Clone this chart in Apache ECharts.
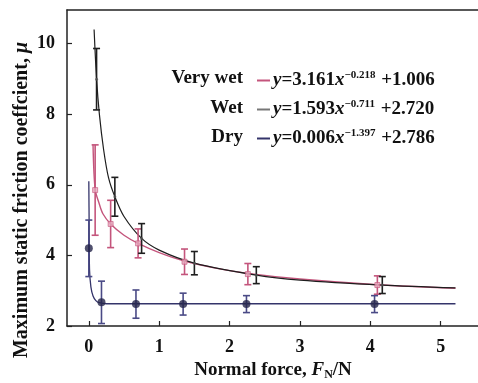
<!DOCTYPE html>
<html><head><meta charset="utf-8">
<script src="https://cdn.jsdelivr.net/npm/echarts@6/dist/echarts.min.js"></script>
<style>html,body{margin:0;padding:0;background:#fff}#c{width:478px;height:383px}</style>
</head><body><div id="c"></div>
<script>
// Tick labels
const xTicks = [0, 1, 2, 3, 4, 5];
const yTicks = [2, 4, 6, 8, 10];
// Measured points (mean, error half-width)
const veryWetX = [0.09, 0.31, 0.70, 1.36, 2.26, 4.10];
const veryWetY = [5.85, 4.89, 4.34, 3.82, 3.47, 3.16];
const veryWetErr = [1.28, 0.67, 0.41, 0.36, 0.30, 0.26];
const wetX = [0.11, 0.37, 0.75, 1.50, 2.38, 4.17];
const wetY = [8.99, 5.66, 4.48, 3.78, 3.44, 3.16];
const wetErr = [0.87, 0.55, 0.42, 0.33, 0.24, 0.24];
const dryX = [0.0, 0.18, 0.67, 1.34, 2.24, 4.06];
const dryY = [4.20, 2.67, 2.62, 2.62, 2.62, 2.62];
const dryErr = [0.80, 0.60, 0.40, 0.31, 0.24, 0.24];
// Fitted curves
const veryWetCurveX = [0.06, 0.09, 0.15, 0.20, 0.31, 0.50, 0.70, 1.00, 1.36, 1.80, 2.26, 3.00, 4.10, 5.21];
const veryWetCurveY = [7.13, 5.87, 5.45, 5.18, 4.89, 4.57, 4.34, 4.08, 3.84, 3.64, 3.49, 3.33, 3.17, 3.07];
const wetCurveX = [0.075, 0.11, 0.15, 0.21, 0.28, 0.37, 0.50, 0.75, 1.00, 1.50, 2.38, 3.00, 4.17, 5.21];
const wetCurveY = [10.4, 9.0, 8.0, 7.0, 6.2, 5.66, 5.10, 4.48, 4.15, 3.78, 3.44, 3.30, 3.16, 3.08];
const dryCurveX = [0.0, 0.005, 0.01, 0.03, 0.06, 0.10, 0.15, 0.25, 1.0, 5.21];
const dryCurveY = [6.10, 4.80, 3.60, 3.10, 2.85, 2.72, 2.66, 2.63, 2.63, 2.63];
// Legend texts
const seriesNames = ['Very wet', 'Wet', 'Dry'];
const eqCoef = ['3.161', '1.593', '0.006'];
const eqExp = ['\u22120.218', '\u22120.711', '\u22121.397'];
const eqConst = ['1.006', '2.720', '2.786'];

const colors = {vw: '#c4557c', vwMark: '#e6a8bd', wet: '#1e1e1e', dry: '#34346a', dryBar: '#4a4a86'};
const FONT = '"Liberation Serif", "Times New Roman", serif';

const zip = (xs, ys) => xs.map((x, i) => [x, ys[i]]);
const errData = (xs, ys, es) => xs.map((x, i) => [x, ys[i] - es[i], ys[i] + es[i]]);

function errRender(color) {
  return function (params, api) {
    const x = api.value(0);
    const lo = api.coord([x, api.value(1)]);
    const hi = api.coord([x, api.value(2)]);
    const w = 3.5;
    const st = {stroke: color, lineWidth: 1.6};
    return {type: 'group', children: [
      {type: 'line', shape: {x1: lo[0], y1: lo[1], x2: hi[0], y2: hi[1]}, style: st},
      {type: 'line', shape: {x1: lo[0] - w, y1: lo[1], x2: lo[0] + w, y2: lo[1]}, style: st},
      {type: 'line', shape: {x1: hi[0] - w, y1: hi[1], x2: hi[0] + w, y2: hi[1]}, style: st}
    ]};
  };
}

const chart = echarts.init(document.getElementById('c'), null, {renderer: 'canvas'});
const axisCommon = {
  type: 'value', min: -0.31, max: 5.53,
  axisLine: {show: true, onZero: false, lineStyle: {color: '#222', width: 1.5}},
  splitLine: {show: false}
};
const eqRich = {
  i: {fontFamily: FONT, fontStyle: 'italic', fontWeight: 'bold', fontSize: 19, color: '#111'},
  n: {fontFamily: FONT, fontWeight: 'bold', fontSize: 19, color: '#111'},
  s: {fontFamily: FONT, fontWeight: 'bold', fontSize: 11, color: '#111', verticalAlign: 'top', padding: [0, 1, 10, 0]}
};
const labelStyle = {fontFamily: FONT, fontWeight: 'bold', fontSize: 18, color: '#111'};

chart.setOption({
  animation: false,
  grid: {left: 67, top: 10, right: 0, bottom: 57},
  xAxis: [
    Object.assign({}, axisCommon, {
      position: 'bottom',
      axisTick: {show: true, inside: true, length: 5, customValues: xTicks, lineStyle: {color: '#222', width: 1.2}},
      axisLabel: Object.assign({customValues: xTicks, margin: 12}, labelStyle)
    }),
    Object.assign({}, axisCommon, {
      position: 'top', axisTick: {show: false}, axisLabel: {show: false}
    })
  ],
  yAxis: {
    type: 'value', min: 2, max: 10.95,
    axisLine: {show: true, onZero: false, lineStyle: {color: '#222', width: 1.5}},
    splitLine: {show: false},
    axisTick: {show: true, inside: true, length: 5, customValues: yTicks, lineStyle: {color: '#222', width: 1.2}},
    axisLabel: Object.assign({customValues: yTicks, margin: 12}, labelStyle)
  },
  legend: {
    orient: 'vertical', left: 252, top: 65, itemGap: 9,
    itemWidth: 13, itemHeight: 2, icon: 'rect',
    data: seriesNames,
    formatter: function (name) {
      const k = seriesNames.indexOf(name);
      return '{i|y}{n|=' + eqCoef[k] + '}{i|x}{s|' + eqExp[k] + '}{n| +' + eqConst[k] + '}';
    },
    textStyle: {rich: eqRich, padding: [0, 0, 0, -2]}
  },
  graphic: [
    {type: 'text', x: 243, y: 78, style: {text: 'Very wet', align: 'right', verticalAlign: 'middle', font: 'bold 19px ' + FONT, fill: '#111'}},
    {type: 'text', x: 243, y: 108, style: {text: 'Wet', align: 'right', verticalAlign: 'middle', font: 'bold 19px ' + FONT, fill: '#111'}},
    {type: 'text', x: 243, y: 137, style: {text: 'Dry', align: 'right', verticalAlign: 'middle', font: 'bold 19px ' + FONT, fill: '#111'}},
    {type: 'text', x: 22, y: 200, rotation: Math.PI / 2,
      style: {text: 'Maximum static friction coeffcient, {i|\u03bc}', align: 'center', verticalAlign: 'middle',
        font: 'bold 20px ' + FONT, fill: '#111',
        rich: {i: {fontFamily: FONT, fontStyle: 'italic', fontWeight: 'bold', fontSize: 20, fill: '#111'}}}},
    {type: 'text', x: 273, y: 370,
      style: {text: 'Normal force, {i|F}{sub|N}/N', align: 'center', verticalAlign: 'middle',
        font: 'bold 19px ' + FONT, fill: '#111',
        rich: {i: {fontFamily: FONT, fontStyle: 'italic', fontWeight: 'bold', fontSize: 19, fill: '#111'},
               sub: {fontFamily: FONT, fontWeight: 'bold', fontSize: 12, fill: '#111', padding: [9, 0, 0, 0]}}}}
  ],
  series: [
    {name: 'Very wet', type: 'line', data: zip(veryWetCurveX, veryWetCurveY), smooth: 0.3,
      showSymbol: false, symbol: 'none', lineStyle: {color: colors.vw, width: 1.4}, itemStyle: {color: colors.vw}, z: 2},
    {name: 'Wet', type: 'line', data: zip(wetCurveX, wetCurveY), smooth: 0.3,
      showSymbol: false, symbol: 'none', lineStyle: {color: colors.wet, width: 1.2}, itemStyle: {color: '#777'}, z: 2},
    {name: 'Dry', type: 'line', data: zip(dryCurveX, dryCurveY), smooth: 0.3,
      showSymbol: false, symbol: 'none', lineStyle: {color: colors.dry, width: 1.3}, itemStyle: {color: colors.dry}, z: 2},
    {type: 'custom', renderItem: errRender(colors.vw), data: errData(veryWetX, veryWetY, veryWetErr), encode: {x: 0, y: [1, 2]}, z: 3},
    {type: 'custom', renderItem: errRender(colors.wet), data: errData(wetX, wetY, wetErr), encode: {x: 0, y: [1, 2]}, z: 3},
    {type: 'custom', renderItem: errRender(colors.dryBar), data: errData(dryX, dryY, dryErr), encode: {x: 0, y: [1, 2]}, z: 3},
    {type: 'scatter', data: zip(veryWetX, veryWetY), symbol: 'rect', symbolSize: 5,
      itemStyle: {color: colors.vwMark, borderColor: colors.vw, borderWidth: 0.8}, z: 4},
    {type: 'scatter', data: zip(wetX, wetY), symbol: 'circle', symbolSize: 3, itemStyle: {color: '#555'}, z: 4},
    {type: 'scatter', data: zip(dryX, dryY), symbol: 'circle', symbolSize: 8, itemStyle: {color: '#24244a'}, z: 4}
  ]
});
</script></body></html>
